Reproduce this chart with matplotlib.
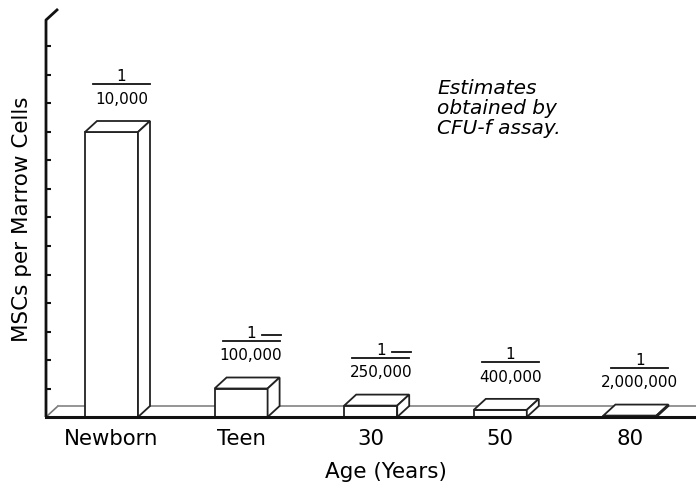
import numpy as np
import matplotlib
matplotlib.use("Agg")
import matplotlib.pyplot as plt
from matplotlib.patches import Rectangle, Polygon

# data (MSCs per 100,000 marrow cells)
ages = ["Newborn", "Teen", "30", "50", "80"]
msc_per_100k = [10.0, 1.0, 0.4, 0.25, 0.05]
denominators = ["10,000", "100,000", "250,000", "400,000", "2,000,000"]
stray_dash = [False, True, True, False, False]

# pixel scale of the drawing (px per data unit)
PX_X = 129.6
PX_Y = 28.5
depth_x = 12 / PX_X
depth_y = 11 / PX_Y
bar_w = 53 / PX_X

fig = plt.figure(figsize=(6.96, 4.86), dpi=100)
ax = fig.add_axes([46 / 696, (486 - 417) / 486, (696 - 46) / 696, (417 - 8) / 486])
xl = (46 - 111.5) / PX_X
xr = (696 - 111.5) / PX_X
ax.set_xlim(xl, xr)
ax.set_ylim(0, (417 - 8) / PX_Y)
for s in ax.spines.values():
    s.set_visible(False)

# left wall edge with the little kink at the top
ytop = (417 - 20) / PX_Y
ax.plot([xl, xl, xl + depth_x], [0, ytop, ytop + depth_y], color="#111111",
        lw=2.0, clip_on=False, zorder=5, solid_capstyle="butt")

# floor
ax.plot([xl, xl + depth_x], [0, depth_y], color="#777777", lw=1.2, zorder=1)
ax.plot([xl + depth_x, xr], [depth_y, depth_y], color="#8c8c8c", lw=1.3, zorder=1, clip_on=False)
ax.plot([xl, xr], [0, 0], color="#111111", lw=2.2, zorder=6, clip_on=False)

# 3-d looking bars
for i, v in enumerate(msc_per_100k):
    x0 = i - bar_w / 2
    x1 = i + bar_w / 2
    kw = dict(facecolor="white", edgecolor="#222222", lw=1.3, zorder=3, joinstyle="miter")
    ax.add_patch(Rectangle((x0, 0), bar_w, v, **kw))
    ax.add_patch(Polygon([(x0, v), (x1, v), (x1 + depth_x, v + depth_y), (x0 + depth_x, v + depth_y)], **kw))
    ax.add_patch(Polygon([(x1, 0), (x1 + depth_x, depth_y), (x1 + depth_x, v + depth_y), (x1, v)], **kw))

    # fraction label above the bar
    cx = i + 10 / PX_X
    ly = v + 1.68
    ax.plot([cx - 0.22, cx + 0.22], [ly, ly], color="#111111", lw=1.3, zorder=4)
    ax.annotate("1", (cx, ly), xytext=(0, 2), textcoords="offset points",
                ha="center", va="baseline", fontsize=11)
    ax.annotate(denominators[i], (cx, ly), xytext=(0, -5.5), textcoords="offset points",
                ha="center", va="top", fontsize=11)
    if stray_dash[i]:
        sy = ly + 6 / PX_Y
        ax.plot([cx + 11 / PX_X, cx + 30 / PX_X], [sy, sy], color="#111111", lw=1.3, zorder=4)

ax.text((437 - 111.5) / PX_X, (417 - 79) / PX_Y, "Estimates\nobtained by\nCFU-f assay.",
        ha="left", va="top", fontsize=14.5, style="italic", linespacing=1.05)

ax.set_yticks(np.arange(1, 14))
ax.set_yticklabels([])
ax.tick_params(axis="y", direction="in", length=3.5, width=1.5, color="#111111")
ax.set_xticks(range(len(ages)))
ax.set_xticklabels(ages, fontsize=15.3)
ax.tick_params(axis="x", length=0, pad=8.5)

ax.set_xlabel("Age (Years)", fontsize=15.5)
ax.xaxis.set_label_coords((386 - 46) / 650, -(462 - 417) / 409)
ax.set_ylabel("MSCs per Marrow Cells", fontsize=15.5)
ax.yaxis.set_label_coords((32 - 46) / 650, (417 - 219) / 409)

fig.savefig("out.png", dpi=100)
